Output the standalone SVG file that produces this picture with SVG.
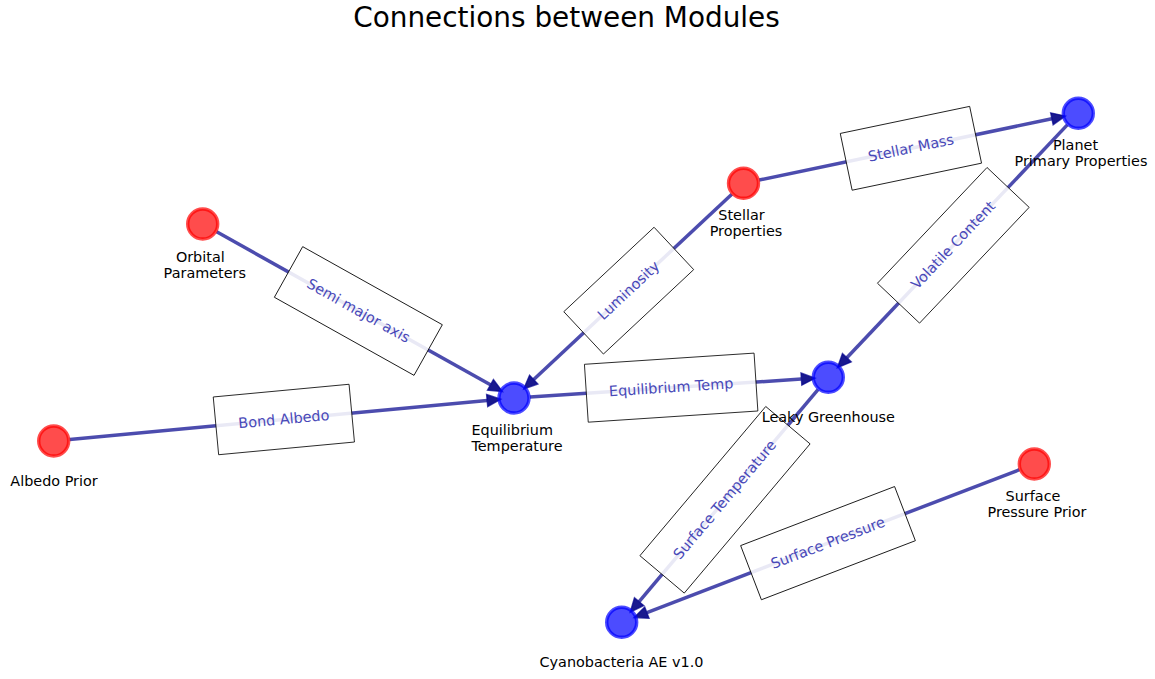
<svg xmlns="http://www.w3.org/2000/svg" width="1155" height="679" viewBox="0 0 1155 679">
<style>
.edge{fill:none;stroke:#00008b;stroke-opacity:0.7;stroke-width:3.5;marker-end:url(#arrow)}
.lbox{fill:#fff;fill-opacity:0.88;stroke:#000;stroke-width:0.8}
.ltext{font-family:"DejaVu Sans",sans-serif;font-size:14.4px;fill:#4848b8;text-anchor:middle}
.ntext{font-family:"DejaVu Sans",sans-serif;font-size:14.4px;fill:#000;text-anchor:middle}
.red{fill:#f00;fill-opacity:0.7;stroke:#f00;stroke-opacity:0.7;stroke-width:3.4}
.blue{fill:#00f;fill-opacity:0.7;stroke:#00f;stroke-opacity:0.7;stroke-width:3.4}
.title{font-family:"DejaVu Sans",sans-serif;font-size:27.9px;fill:#000;text-anchor:middle}
</style>
<defs>
<marker id="arrow" markerUnits="userSpaceOnUse" orient="auto" refX="0" refY="0" markerWidth="20" markerHeight="20" viewBox="-2 -8 18 16" overflow="visible">
<path d="M0,-5.5 L12.5,0 L0,5.5 z" fill="#19198f" stroke="#00008b" stroke-opacity="0.7" stroke-width="1.2" stroke-linejoin="miter"/>
</marker>
</defs>
<rect width="1155" height="679" fill="#fff"/>
<text class="title" x="566.5" y="27">Connections between Modules</text>
<g id="connectors">
<path class="edge" d="M216.67,231.81 L490.43,384.83"/>
<path class="edge" d="M69.63,439.51 L487.12,400.51"/>
<path class="edge" d="M731.82,194.23 L533.72,379.55"/>
<path class="edge" d="M759.16,180.03 L1051.87,118.83"/>
<path class="edge" d="M1067.30,124.92 L846.86,357.70"/>
<path class="edge" d="M529.97,396.95 L801.36,379.07"/>
<path class="edge" d="M817.99,389.53 L639.11,601.66"/>
<path class="edge" d="M1019.36,469.73 L646.91,612.63"/>
</g>
<g id="edge-labels">
<g transform="translate(358.35,311) rotate(29.21)"><rect class="lbox" x="-80" y="-29" width="160" height="58"/><text class="ltext" y="4.6">Semi major axis</text></g>
<g transform="translate(283.85,419.5) rotate(-5.34)"><rect class="lbox" x="-68.2" y="-29" width="136.4" height="58"/><text class="ltext" y="4.6">Bond Albedo</text></g>
<g transform="translate(628.75,290.65) rotate(-43.09)"><rect class="lbox" x="-61.8" y="-29" width="123.6" height="58"/><text class="ltext" y="4.6">Luminosity</text></g>
<g transform="translate(910.9,148.3) rotate(-11.81)"><rect class="lbox" x="-66.1" y="-29" width="132.2" height="58"/><text class="ltext" y="4.6">Stellar Mass</text></g>
<g transform="translate(953.3,245.3) rotate(-46.56)"><rect class="lbox" x="-79.7" y="-29" width="159.4" height="58"/><text class="ltext" y="4.6">Volatile Content</text></g>
<g transform="translate(671.15,387.65) rotate(-3.77)"><rect class="lbox" x="-85" y="-29" width="170" height="58"/><text class="ltext" y="4.6">Equilibrium Temp</text></g>
<g transform="translate(725,499.8) rotate(-49.86)"><rect class="lbox" x="-97.6" y="-29" width="195.2" height="58"/><text class="ltext" y="4.6">Surface Temperature</text></g>
<g transform="translate(828,543.15) rotate(-20.99)"><rect class="lbox" x="-82.45" y="-29" width="164.9" height="58"/><text class="ltext" y="4.6">Surface Pressure</text></g>
</g>
<g id="node-orbital"><circle class="red" cx="202.7" cy="224" r="15"/><text class="ntext" x="200.3" y="261.5">Orbital</text><text class="ntext" x="204.8" y="277.5">Parameters</text></g>
<g id="node-albedo"><circle class="red" cx="53.7" cy="441" r="15"/><text class="ntext" x="54" y="486">Albedo Prior</text></g>
<g id="node-equilibrium"><circle class="blue" cx="514" cy="398" r="15"/><text class="ntext" x="512.2" y="435">Equilibrium</text><text class="ntext" x="517" y="451">Temperature</text></g>
<g id="node-stellar"><circle class="red" cx="743.5" cy="183.3" r="15"/><text class="ntext" x="741.5" y="220.3">Stellar</text><text class="ntext" x="746" y="236.3">Properties</text></g>
<g id="node-planet"><circle class="blue" cx="1078.3" cy="113.3" r="15"/><text class="ntext" x="1075.5" y="150.3">Planet</text><text class="ntext" x="1081" y="166.3">Primary Properties</text></g>
<g id="node-leaky"><circle class="blue" cx="828.3" cy="377.3" r="15"/><text class="ntext" x="828.3" y="422.3">Leaky Greenhouse</text></g>
<g id="node-pressure"><circle class="red" cx="1034.3" cy="464" r="15"/><text class="ntext" x="1033" y="501">Surface</text><text class="ntext" x="1037" y="517">Pressure Prior</text></g>
<g id="node-cyano"><circle class="blue" cx="621.7" cy="622.3" r="15"/><text class="ntext" x="621.5" y="667.3">Cyanobacteria AE v1.0</text></g>
</svg>
